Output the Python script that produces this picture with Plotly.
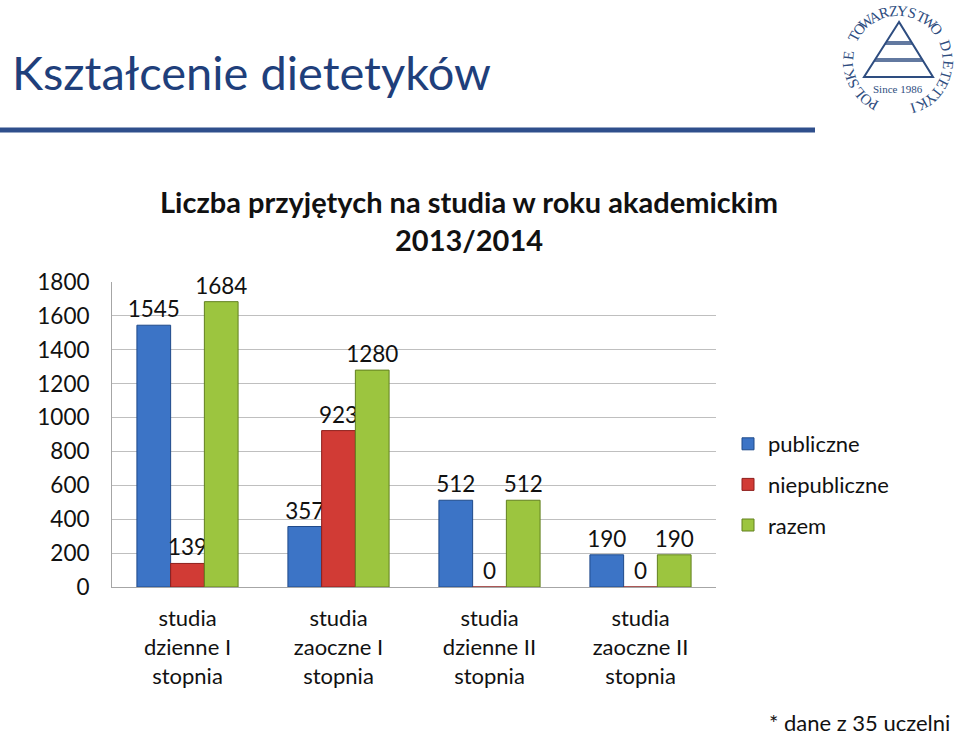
import math
import plotly.graph_objects as go

categories = ["studia<br>dzienne I<br>stopnia", "studia<br>zaoczne I<br>stopnia",
              "studia<br>dzienne II<br>stopnia", "studia<br>zaoczne II<br>stopnia"]
publiczne = [1545, 357, 512, 190]
niepubliczne = [139, 923, 0, 0]
razem = [1684, 1280, 512, 190]
series_names = ["publiczne", "niepubliczne", "razem"]
y_ticks = [0, 200, 400, 600, 800, 1000, 1200, 1400, 1600, 1800]

W, H = 960, 737
L, R, T, B = 112, 244, 282, 150
FONT = "Lato"

def px(x):
    return (x - L) / (W - L - R)

def py(y):
    return (H - B - y) / (H - T - B)

colors = ["#3C74C6", "#D13B35", "#9CC53F"]
lines = ["#1F4A8A", "#8E1F1C", "#62801F"]

fig = go.Figure()
for i, (name, vals) in enumerate(zip(series_names, [publiczne, niepubliczne, razem])):
    fig.add_trace(go.Bar(
        x=categories, y=vals, name=name, legendgroup=name,
        marker=dict(color=colors[i], line=dict(color=lines[i], width=1)),
        texttemplate="%{y}", textposition="outside", constraintext="none",
        textfont=dict(size=22.5, color="#111111", family=FONT),
        cliponaxis=False,
    ))

fig.update_layout(
    width=W, height=H,
    margin=dict(l=L, r=R, t=T, b=B),
    paper_bgcolor="white", plot_bgcolor="white",
    barmode="group", bargap=0.33, bargroupgap=0,
    font=dict(family=FONT, size=21, color="#111111"),
    showlegend=True,
    legend=dict(x=px(728), y=py(423), xanchor="left", yanchor="top",
                font=dict(size=22, family=FONT, color="#111111"),
                tracegroupgap=9, itemwidth=30, bgcolor="rgba(0,0,0,0)"),
    xaxis=dict(showgrid=False, showline=True, linecolor="#A6A6A6", linewidth=1,
               ticks="", tickfont=dict(size=22), ticklabelstandoff=12,
               fixedrange=True),
    yaxis=dict(range=[0, 1800], tickvals=y_ticks, showgrid=True, gridcolor="#BFBFBF",
               gridwidth=1, showline=True, linecolor="#A6A6A6", linewidth=1,
               ticks="", tickfont=dict(size=22.5), ticklabelstandoff=17,
               zeroline=False, fixedrange=True),
)

ann = []
# heading
ann.append(dict(text="Kształcenie dietetyków", xref="paper", yref="paper",
                x=px(10), y=py(72), xanchor="left", yanchor="middle", showarrow=False,
                font=dict(size=47, family=FONT, color="#1F3F7B")))
# chart title (two lines)
ann.append(dict(text="<b>Liczba przyjętych na studia w roku akademickim</b>", xref="paper", yref="paper",
                x=px(469), y=py(201), xanchor="center", yanchor="middle", showarrow=False,
                font=dict(size=29, family=FONT, color="#111111")))
ann.append(dict(text="<b>2013/2014</b>", xref="paper", yref="paper",
                x=px(469), y=py(240), xanchor="center", yanchor="middle", showarrow=False,
                font=dict(size=29, family=FONT, color="#111111")))
# footnote
ann.append(dict(text="* dane z 35 uczelni", xref="paper", yref="paper",
                x=px(952), y=py(722), xanchor="right", yanchor="middle", showarrow=False,
                font=dict(size=22, family=FONT, color="#111111")))

# logo
logo_c = "#2E4D80"
cx, cy, r = 898, 61, 50
logo_text = "POLSKIE TOWARZYSTWO DIETETYKI"
start, end = 209, 522
n = len(logo_text)
for k, ch in enumerate(logo_text):
    if ch == " ":
        continue
    th = start + (end - start) * k / (n - 1)
    t = math.radians(th)
    x = cx + r * math.sin(t)
    y = cy - r * math.cos(t)
    ann.append(dict(text=ch, xref="paper", yref="paper", x=px(x), y=py(y),
                    xanchor="center", yanchor="middle", showarrow=False,
                    textangle=((th + 180) % 360) - 180,
                    font=dict(size=15, family="Liberation Serif", color=logo_c)))
ann.append(dict(text="Since 1986", xref="paper", yref="paper", x=px(898), y=py(89),
                xanchor="center", yanchor="middle", showarrow=False,
                font=dict(size=11, family="Liberation Serif", color=logo_c)))
fig.update_layout(annotations=ann)

shapes = []
shapes.append(dict(type="line", xref="paper", yref="paper", x0=px(0), x1=px(815),
                   y0=py(130), y1=py(130), line=dict(color="#2F4F8C", width=5)))
# pyramid
shapes.append(dict(type="path", xref="paper", yref="paper",
                   path=f"M {px(899)} {py(22)} L {px(864)} {py(77)} L {px(933)} {py(77)} Z",
                   line=dict(color=logo_c, width=2)))
for yy in (42, 44, 59, 61):
    f = (yy - 22) / 55
    shapes.append(dict(type="line", xref="paper", yref="paper",
                       x0=px(899 - 35 * f), x1=px(899 + 34 * f), y0=py(yy), y1=py(yy),
                       line=dict(color=logo_c, width=1.5)))
fig.update_layout(shapes=shapes)

fig.write_html("out.html")
